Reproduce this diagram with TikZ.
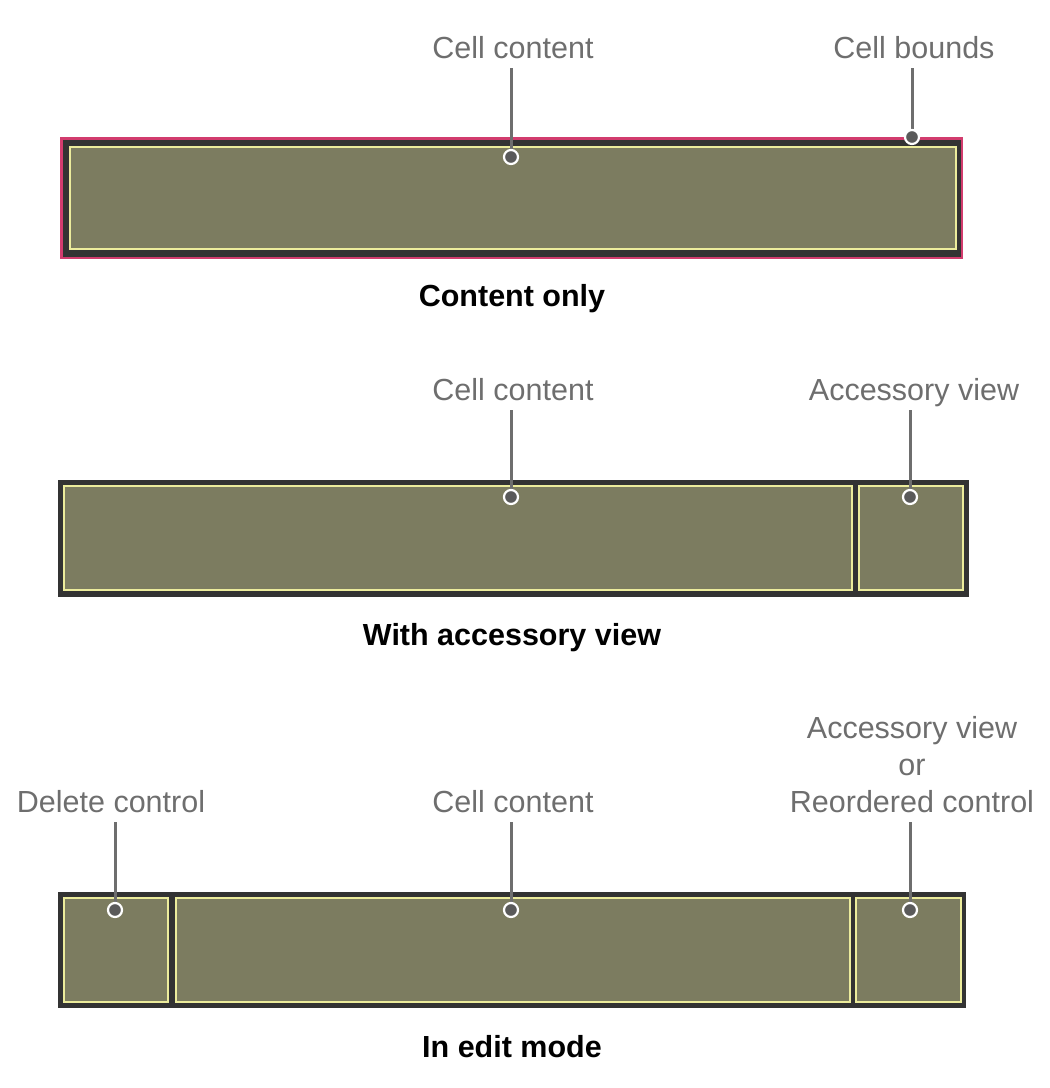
\documentclass[tikz,border=0pt]{standalone}
\usepackage{fontspec}
\setmainfont{Liberation Sans}
\definecolor{darkframe}{HTML}{333333}
\definecolor{olivefill}{HTML}{7C7C60}
\definecolor{paleyellow}{HTML}{ECEC9C}
\definecolor{boundspink}{HTML}{D23C6E}
\definecolor{labelgray}{HTML}{6E6E6E}
\definecolor{pingray}{HTML}{5A5A5A}
\begin{document}
\begin{tikzpicture}[x=1pt,y=-1pt,
  frame/.style={rectangle,fill=darkframe,draw=none,inner sep=0,outer sep=0},
  boundsframe/.style={rectangle,fill=darkframe,draw=boundspink,line width=2.5pt,inner sep=0,outer sep=0},
  cell/.style={rectangle,fill=olivefill,draw=paleyellow,line width=2.8pt,inner sep=0,outer sep=0},
  lbl/.style={text=labelgray,font=\fontsize{30.5}{37}\selectfont,anchor=south,inner sep=2pt,text depth=7pt,align=center},
  ttl/.style={text=black,font=\fontsize{30.5}{37}\selectfont\bfseries,anchor=base,inner sep=0},
  lead/.style={draw=labelgray,line width=3pt},
  pindot/.style={circle,fill=pingray,draw=white,line width=2.2pt,minimum size=14pt,inner sep=0}
]
\useasboundingbox (0,0) rectangle (1050,1088);

% ---------- Panel 1: Content only ----------
\node[boundsframe,minimum width=900.5pt,minimum height=119.5pt] (bounds1) at (511.5,198) {};
\node[cell,minimum width=886pt,minimum height=102pt] (content1) at (513,198) {};
\node[lbl] (lc1) at (513,68) {Cell content};
\node[lbl] (lb1) at (914,68) {Cell bounds};
\coordinate (p11) at (511,157);
\coordinate (p12) at (912,137);
\draw[lead] (lc1.south -| p11) -- (p11);
\draw[lead] (lb1.south -| p12) -- (p12);
\node[pindot] at (p11) {};
\node[pindot] at (p12) {};
\node[ttl] (t1) at (512,306) {Content only};

% ---------- Panel 2: With accessory view ----------
\node[frame,minimum width=911pt,minimum height=117pt] (frame2) at (513.5,538.5) {};
\node[cell,minimum width=788pt,minimum height=104pt] (content2) at (458,538) {};
\node[cell,minimum width=104pt,minimum height=104pt] (acc2) at (911,538) {};
\node[lbl] (lc2) at (513,410) {Cell content};
\node[lbl] (la2) at (914,410) {Accessory view};
\coordinate (p21) at (511,497);
\coordinate (p22) at (910,497);
\draw[lead] (lc2.south -| p21) -- (p21);
\draw[lead] (la2.south -| p22) -- (p22);
\node[pindot] at (p21) {};
\node[pindot] at (p22) {};
\node[ttl] (t2) at (512,645) {With accessory view};

% ---------- Panel 3: In edit mode ----------
\node[frame,minimum width=908pt,minimum height=116pt] (frame3) at (512,950) {};
\node[cell,minimum width=104pt,minimum height=104pt] (del3) at (116,950) {};
\node[cell,minimum width=674pt,minimum height=104pt] (content3) at (513,950) {};
\node[cell,minimum width=105pt,minimum height=104pt] (acc3) at (908.5,950) {};
\node[lbl] (ld3) at (111,822) {Delete control};
\node[lbl] (lc3) at (513,822) {Cell content};
\node[lbl] (la3) at (912,822) {Accessory view\\or\\Reordered control};
\coordinate (p31) at (115,910);
\coordinate (p32) at (511,910);
\coordinate (p33) at (910,910);
\draw[lead] (ld3.south -| p31) -- (p31);
\draw[lead] (lc3.south -| p32) -- (p32);
\draw[lead] (la3.south -| p33) -- (p33);
\node[pindot] at (p31) {};
\node[pindot] at (p32) {};
\node[pindot] at (p33) {};
\node[ttl] (t3) at (512,1057) {In edit mode};
\end{tikzpicture}
\end{document}
